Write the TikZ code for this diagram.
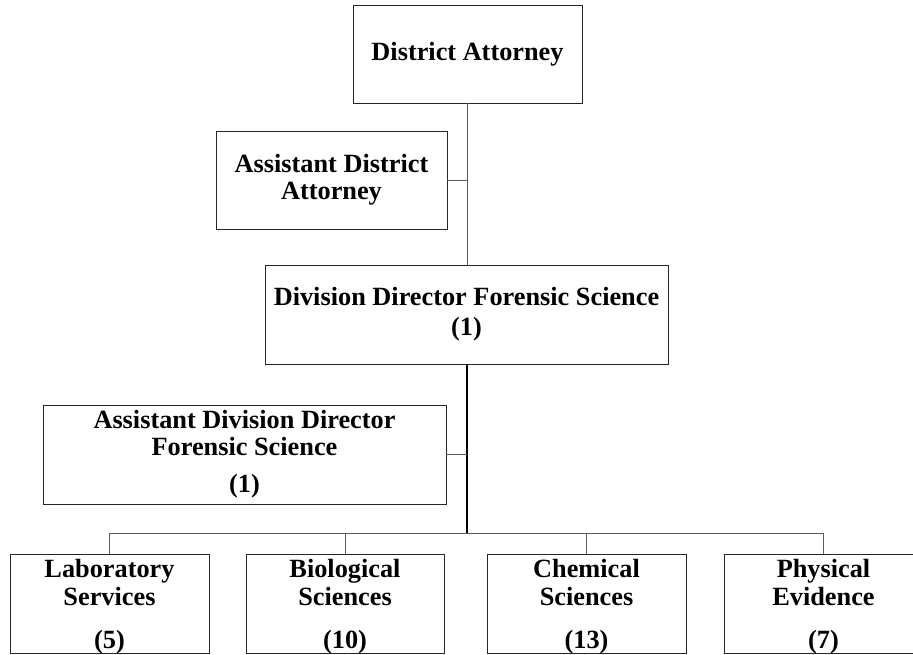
\documentclass[tikz,border=0pt]{standalone}
\usepackage{fontspec}
\setmainfont{Liberation Serif}
\usetikzlibrary{positioning}

\tikzset{
  unit/.style={draw=black!85, line width=0.8pt, fill=white, align=center,
    inner sep=0pt, font=\bfseries\fontsize{26.3}{27}\selectfont},
  section/.style={unit, minimum width=199, minimum height=99},
  link/.style={draw=black!65, line width=0.9pt},
  trunk/.style={draw=black, line width=1.8pt}
}
% three-line label of a section box, set a little lower in its box
\newcommand\seclabel[3]{\raisebox{-4pt}[\height][\depth]{\begin{tabular}{@{}c@{}}#1\\[1pt]#2\\[16pt]#3\end{tabular}}}

\begin{document}
\begin{tikzpicture}[x=1pt,y=-1pt]
			\useasboundingbox (0,0) rectangle (913,654);
			% upper part
			\node[unit, minimum width=229, minimum height=98] (da) at (467.5,54) {District Attorney};
			\node[unit, minimum width=231, minimum height=98] (ada) at (331.5,180) {Assistant District\\Attorney};
			\node[unit, minimum width=403, minimum height=99] (dd) at (466.5,314.5) {Division Director Forensic Science\\[3pt](1)};
			\node[unit, minimum width=403, minimum height=99] (add) at (244.5,454.5) {Assistant Division Director\\Forensic Science\\[10pt](1)};
			% sections
			\node[section] (lab) at (109.5,603.5) {\seclabel{Laboratory}{Services}{(5)}};
			\node[section, minimum width=198] (bio) at (345,603.5) {\seclabel{Biological}{Sciences}{(10)}};
			\node[section] (chem) at (586.5,603.5) {\seclabel{Chemical}{Sciences}{(13)}};
			\node[section] (phys) at (823.5,603.5) {\seclabel{Physical}{Evidence}{(7)}};
			\coordinate (bus) at (467,533);
			% connectors
			\draw[link] (da.south) -- (da.south |- dd.north);
			\draw[link] (ada.east) -- (ada.east -| da.south);
			\draw[trunk] (dd.south -| bus) -- (bus);
			\draw[link] (add.east) -- (add.east -| bus);
			\draw[link] (lab.north |- bus) -- (phys.north |- bus);
			\foreach \sec in {lab,bio,chem,phys}
				\draw[link] (\sec.north) -- (\sec.north |- bus);
		\end{tikzpicture}
\end{document}
